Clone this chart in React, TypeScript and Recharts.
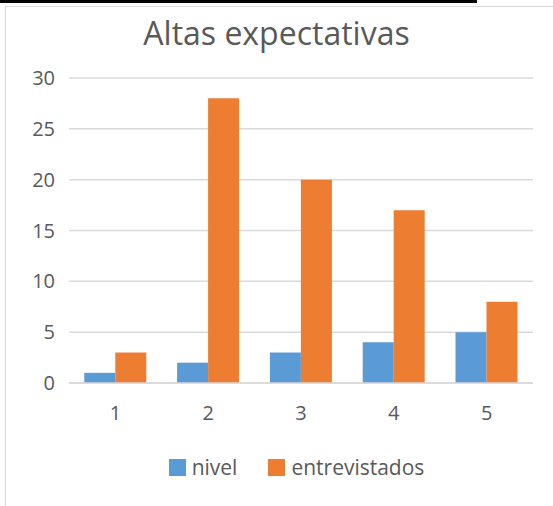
import React from 'react';
import { BarChart, Bar, XAxis, YAxis, CartesianGrid, Legend } from 'recharts';

const categories = ['1', '2', '3', '4', '5'];
const nivel = [1, 2, 3, 4, 5];
const entrevistados = [3, 28, 20, 17, 8];
const yTicks = [0, 5, 10, 15, 20, 25, 30];

const data = categories.map((c, i) => ({ cat: c, nivel: nivel[i], entrevistados: entrevistados[i] }));

const FONT = '"Open Sans", sans-serif';
const TXT = '#595959';
const BLUE = '#5B9BD5';
const ORANGE = '#ED7D31';

const renderLegend = () => (
  <div style={{ display: 'flex', justifyContent: 'center', alignItems: 'center', fontFamily: FONT, fontSize: 21, color: TXT, paddingLeft: 40 }}>
    <span style={{ display: 'inline-block', width: 17, height: 17, background: BLUE, marginRight: 6 }} />
    <span style={{ marginRight: 31 }}>nivel</span>
    <span style={{ display: 'inline-block', width: 17, height: 17, background: ORANGE, marginRight: 6 }} />
    <span>entrevistados</span>
  </div>
);

export default function App() {
  return (
    <div style={{ position: 'fixed', left: 0, top: 0, width: 553, height: 506, background: '#fff', overflow: 'hidden' }}>
      <div style={{ position: 'absolute', left: 0, top: 0, width: 477, height: 3, background: '#000' }} />
      <div style={{ position: 'absolute', left: 5, top: 6, width: 560, height: 520, border: '1px solid #d9d9d9', boxSizing: 'border-box' }} />
      <div style={{ position: 'absolute', left: 0, top: 11, width: 553, textAlign: 'center', fontFamily: FONT, fontSize: 32, color: TXT, lineHeight: '44px' }}>
        Altas expectativas
      </div>
      <div style={{ position: 'absolute', left: 0, top: 0 }}>
        <BarChart width={553} height={506} data={data} margin={{ top: 78, right: 20, bottom: 93, left: 0 }} barCategoryGap="16.5%" barGap={0}>
          <CartesianGrid vertical={false} stroke="#d9d9d9" strokeWidth={1.5} />
          <XAxis dataKey="cat" axisLine={{ stroke: '#d9d9d9', strokeWidth: 1.5 }} tickLine={false} height={30} tickMargin={17}
            tick={{ fill: TXT, fontSize: 20, fontFamily: FONT }} />
          <YAxis domain={[0, 30]} ticks={yTicks} width={69} axisLine={false} tickLine={false} tickMargin={8}
            tick={{ fill: TXT, fontSize: 20, fontFamily: FONT }} />
          <Legend verticalAlign="middle" align="center" layout="horizontal" content={renderLegend}
            wrapperStyle={{ top: 453, left: 0, width: 553 }} />
          <Bar dataKey="nivel" fill={BLUE} isAnimationActive={false} />
          <Bar dataKey="entrevistados" fill={ORANGE} isAnimationActive={false} />
        </BarChart>
      </div>
    </div>
  );
}
